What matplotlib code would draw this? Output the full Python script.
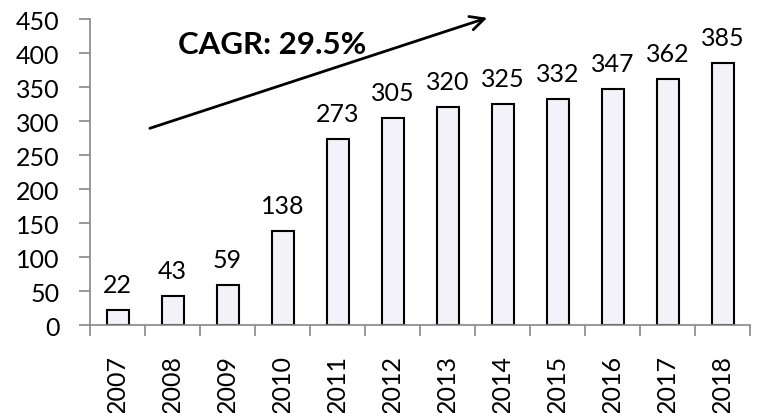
import matplotlib
matplotlib.use("Agg")
import matplotlib.pyplot as plt
import numpy as np

years = ["2007", "2008", "2009", "2010", "2011", "2012", "2013", "2014", "2015", "2016", "2017", "2018"]
values = [22, 43, 59, 138, 273, 305, 320, 325, 332, 347, 362, 385]
yticks = [0, 50, 100, 150, 200, 250, 300, 350, 400, 450]
cagr_label = "CAGR: 29.5%"

plt.rcParams['font.family'] = ['Lato', 'DejaVu Sans']
fig = plt.figure(figsize=(7.57, 4.14), dpi=100)
ax = fig.add_axes([90/757, 1-326/414, 660/757, 306/414])

fs = 18
x = np.arange(len(years))
ax.bar(x, values, width=0.4, color="#F2F2F8", edgecolor="black", linewidth=1.5)
for xi, v in zip(x, values):
    ax.annotate(str(v), xy=(xi, v), xytext=(0, 13), textcoords="offset points",
                ha="center", va="baseline", fontsize=fs)

ax.set_xlim(-0.5, len(years) - 0.5)
ax.set_ylim(0, 450)
ax.set_yticks(yticks)
ax.set_yticklabels([str(t) for t in yticks], fontsize=fs)
ax.set_xticks(x)
ax.set_xticklabels(years, rotation=90, fontsize=fs)
ax.tick_params(axis="x", length=0, pad=21)
ax.set_xticks(np.arange(-0.5, len(years)), minor=True)
ax.tick_params(axis="x", which="minor", length=8, color="#888888", width=1.2)
ax.tick_params(axis="y", length=8, color="#888888", width=1.2, pad=14)

for s in ["top", "right"]:
    ax.spines[s].set_visible(False)
for s in ["left", "bottom"]:
    ax.spines[s].set_color("#888888")
    ax.spines[s].set_linewidth(1.2)

ax.annotate("", xy=(6.77, 453), xytext=(0.54, 288),
            arrowprops=dict(arrowstyle="->", color="black", lw=2, mutation_scale=25),
            annotation_clip=False)
ax.text(1.1, 413, cagr_label, fontsize=22.5, fontweight="bold", ha="left", va="center")

fig.savefig("out.png", dpi=100)
